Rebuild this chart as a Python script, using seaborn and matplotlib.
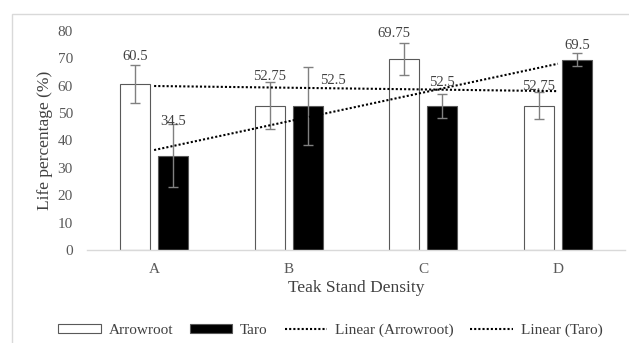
import numpy as np
import pandas as pd
import matplotlib
matplotlib.use("Agg")
import matplotlib.pyplot as plt
import matplotlib.patches as mpatches
import seaborn as sns

# dados
densidade = ["A", "B", "C", "D"]
arrowroot = [60.5, 52.75, 69.75, 52.75]
taro = [34.5, 52.5, 52.5, 69.5]
erro_arrowroot = [7.0, 8.5, 6.0, 5.0]
erro_taro = [11.5, 14.3, 4.3, 2.5]

# deslocamento dos rotulos (x em categorias, y em %) - posicionados a mao no original
desl_arrowroot = [(0.0, 10.0), (0.0, 10.7), (-0.08, 9.3), (0.0, 7.0)]
desl_taro = [(0.0, 12.5), (0.19, 9.5), (0.0, 8.8), (0.0, 5.0)]

df = pd.DataFrame({
    "Densidade": densidade * 2,
    "Vida": arrowroot + taro,
    "Planta": ["Arrowroot"] * 4 + ["Taro"] * 4,
})

sns.set_style("white")
plt.rcParams["font.family"] = ["Liberation Serif", "DejaVu Serif"]
cinza = "#595959"
pontilhado = (0, (1, 1))

fig = plt.figure(figsize=(6.29, 3.43), dpi=100)
ax = fig.add_axes([0.138, 0.271, 0.856, 0.639])

# moldura da area do grafico
fig.patches.append(mpatches.Rectangle((12 / 629, -0.2), 1.0, 1 - 14 / 343 + 0.2,
                                      transform=fig.transFigure, fill=False,
                                      edgecolor="#d9d9d9", linewidth=1.0))

sns.barplot(data=df, x="Densidade", y="Vida", hue="Planta", order=densidade,
            palette={"Arrowroot": "white", "Taro": "black"}, edgecolor=cinza,
            linewidth=0.8, width=0.566, gap=0.212, errorbar=None, ax=ax,
            legend=False, zorder=2)

pos = np.arange(len(densidade))
meio = 0.566 / 4
ax.errorbar(pos - meio, arrowroot, yerr=erro_arrowroot, fmt="none", ecolor="#808080",
            elinewidth=1.0, capsize=3.5, capthick=1.0, zorder=4)
ax.errorbar(pos + meio, taro, yerr=erro_taro, fmt="none", ecolor="#808080",
            elinewidth=1.0, capsize=3.5, capthick=1.0, zorder=4)

# linhas de tendencia (ajuste linear)
sns.regplot(x=pos, y=np.array(arrowroot), ci=None, scatter=False, ax=ax,
            line_kws={"color": "black", "linestyle": pontilhado, "linewidth": 1.5,
                      "zorder": 5})
sns.regplot(x=pos, y=np.array(taro), ci=None, scatter=False, ax=ax,
            line_kws={"color": "black", "linestyle": pontilhado, "linewidth": 1.5,
                      "zorder": 5})
linhas = ax.get_lines()[-2:]

# rotulos de valor
for i in range(len(densidade)):
    dx, dy = desl_arrowroot[i]
    ax.text(pos[i] - meio + dx, arrowroot[i] + dy, "{:g}".format(arrowroot[i]),
            ha="center", va="center", fontsize=10.5, color="#404040", zorder=6)
    dx, dy = desl_taro[i]
    ax.text(pos[i] + meio + dx, taro[i] + dy, "{:g}".format(taro[i]),
            ha="center", va="center", fontsize=10.5, color="#404040", zorder=6)

ax.set_xlim(-0.5, 3.5)
ax.set_ylim(0, 80)
ax.set_yticks(range(0, 81, 10))
ax.tick_params(axis="both", labelsize=11, colors=cinza, length=0)
ax.tick_params(axis="x", pad=9)
ax.tick_params(axis="y", pad=10)
ax.set_xlabel("Teak Stand Density", fontsize=12.5, color="#404040", labelpad=3)
ax.set_ylabel("Life percentage (%)", fontsize=12.5, color="#404040", labelpad=3.5)

sns.despine(ax=ax, left=True)
ax.spines["bottom"].set_color("#d9d9d9")
ax.spines["bottom"].set_linewidth(1.0)

handles = [
    mpatches.Patch(facecolor="white", edgecolor=cinza, linewidth=0.8),
    mpatches.Patch(facecolor="black", edgecolor=cinza, linewidth=0.8),
] + linhas
rotulos = ["Arrowroot", "Taro", "Linear (Arrowroot)", "Linear (Taro)"]
fig.legend(handles=handles, labels=rotulos,
           loc="center", bbox_to_anchor=(0.525, 0.037), ncol=4, frameon=False,
           fontsize=11, handlelength=2.8, handleheight=0.5, columnspacing=1.1,
           handletextpad=0.5, labelcolor="#404040")

fig.savefig("out.png", dpi=100)
